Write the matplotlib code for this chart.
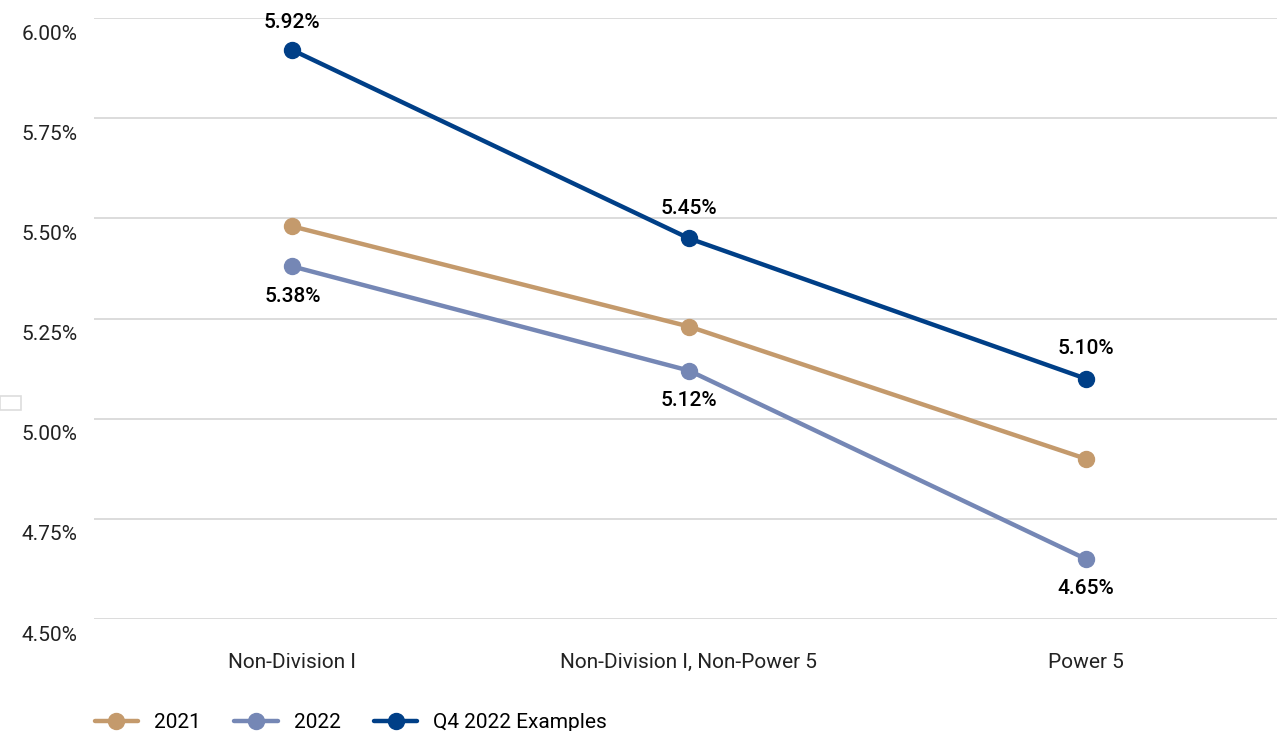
import matplotlib
matplotlib.use("Agg")
import matplotlib.pyplot as plt
from matplotlib.patches import Rectangle
from matplotlib.ticker import FuncFormatter
import matplotlib.transforms as mtransforms

categories = ["Non-Division I", "Non-Division I, Non-Power 5", "Power 5"]
series_names = ["2021", "2022", "Q4 2022 Examples"]
values_2021 = [5.48, 5.23, 4.90]
values_2022 = [5.38, 5.12, 4.65]
values_q4 = [5.92, 5.45, 5.10]
y_ticks = [4.50, 4.75, 5.00, 5.25, 5.50, 5.75, 6.00]

colors = ["#C49A6C", "#7587B5", "#003F87"]
plt.rcParams['font.family'] = ['Roboto', 'DejaVu Sans']
FS = 15

fig = plt.figure(figsize=(12.77, 7.31), dpi=100)
ax = fig.add_axes([94/1277, 1 - 619/731, 1190/1277, (619-18)/731])

x = list(range(len(categories)))
for vals, name, c in zip([values_2021, values_2022, values_q4], series_names, colors):
    ax.plot(x, vals, color=c, lw=3.2, marker='o', markersize=11.5, label=name,
            solid_capstyle='round', zorder=3)

ax.set_xlim(-0.5, 2.5)
ax.set_ylim(4.5, 6.0)

# data labels: above for Q4, below for 2022; keep inside the plot top
fig.canvas.draw()
top_px = ax.transData.transform((0, 6.0))[1]
for xi, v in zip(x, values_q4):
    ppx = ax.transData.transform((xi, v))[1]
    off = min(30, top_px - 12 - ppx + 8)
    ax.annotate(f"{v:.2f}%", (xi, v), xytext=(0, off * 72 / fig.dpi), textcoords='offset points',
                ha='center', va='center', fontsize=FS, color='black', fontweight='medium')
for xi, v in zip(x, values_2022):
    ax.annotate(f"{v:.2f}%", (xi, v), xytext=(0, -30 * 72 / fig.dpi), textcoords='offset points',
                ha='center', va='center', fontsize=FS, color='black', fontweight='medium')

ax.set_yticks(y_ticks)
ax.yaxis.set_major_formatter(FuncFormatter(lambda v, p: f"{v:.2f}%"))
ax.set_xticks(x)
ax.set_xticklabels(categories)
ax.grid(axis='y', color='#d9d9d9', lw=1.3)
ax.set_axisbelow(True)
for s in ax.spines.values():
    s.set_visible(False)
ax.tick_params(axis='both', length=0, labelsize=FS, colors='#222222')
ax.tick_params(axis='x', pad=24.5)
ax.tick_params(axis='y', pad=12)
offset = mtransforms.ScaledTranslation(0, -14/100, fig.dpi_scale_trans)
for lbl in ax.get_yticklabels():
    lbl.set_transform(lbl.get_transform() + offset)

fig.patches.append(Rectangle((0, 1 - 410/731), 21/1277, 14/731, transform=fig.transFigure,
                             fill=False, edgecolor='#dddddd', lw=1.2))

leg = fig.legend(loc='lower left', bbox_to_anchor=(80/1277, -0.022), ncol=3, frameon=False,
                 fontsize=FS, handlelength=2.1, columnspacing=1.6, handletextpad=0.75,
                 markerscale=1.0, borderaxespad=0.3)
plt.savefig("out.png", dpi=100)
